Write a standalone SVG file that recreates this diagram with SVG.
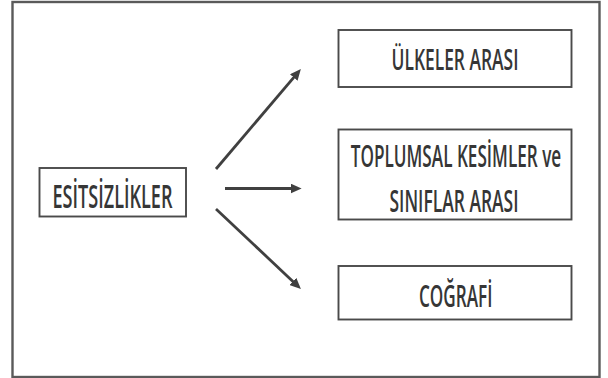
<svg xmlns="http://www.w3.org/2000/svg" width="608" height="378" viewBox="0 0 608 378">
<defs>
<style>
.frame{fill:#fff;stroke:#5a5a5a;stroke-width:2.4}
.box{fill:#fff;stroke:#4a4a4a;stroke-width:1.9}
.lbl{font-family:"Open Sans","Noto Sans","DejaVu Sans",sans-serif;font-weight:600;fill:#363636;text-anchor:middle}
.arr{stroke:#404040;stroke-width:2.8;fill:none;marker-end:url(#head)}
</style>
<marker id="head" viewBox="0 0 10 9" refX="4" refY="4.5" markerWidth="11" markerHeight="10" markerUnits="userSpaceOnUse" orient="auto">
<path d="M0,0 L10,4.5 L0,9 Z" fill="#404040"/>
</marker>
</defs>
<rect class="frame" x="12.5" y="2" width="587" height="375"/>
<g id="node-esitsizlikler">
<rect class="box" x="39.5" y="168" width="146.5" height="48.5"/>
<text class="lbl" transform="translate(112.5,208.3) scale(0.564,1)" font-size="33" textLength="212.8" lengthAdjust="spacingAndGlyphs">ESİTSİZLİKLER</text>
</g>
<g id="node-ulkeler">
<rect class="box" x="338.5" y="30" width="233" height="57"/>
<text class="lbl" transform="translate(455,69.5) scale(0.639,1)" font-size="28" textLength="198.7" lengthAdjust="spacingAndGlyphs">ÜLKELER ARASI</text>
</g>
<g id="node-toplumsal">
<rect class="box" x="338.5" y="129.5" width="233" height="90"/>
<text class="lbl" transform="translate(456,167) scale(0.566,1)" font-size="31" textLength="371.9" lengthAdjust="spacingAndGlyphs">TOPLUMSAL KESİMLER ve</text>
<text class="lbl" transform="translate(454,211.5) scale(0.584,1)" font-size="31" textLength="220.9" lengthAdjust="spacingAndGlyphs">SINIFLAR ARASI</text>
</g>
<g id="node-cografi">
<rect class="box" x="338.5" y="266" width="233" height="53.5"/>
<text class="lbl" transform="translate(455.7,306.5) scale(0.566,1)" font-size="31" textLength="129.9" lengthAdjust="spacingAndGlyphs">COĞRAFİ</text>
</g>
<g id="connectors">
<line class="arr" x1="216" y1="169" x2="296.6" y2="74.1"/>
<line class="arr" x1="225" y1="188.5" x2="295" y2="188.5"/>
<line class="arr" x1="216" y1="209" x2="296.1" y2="284.4"/>
</g>
</svg>
